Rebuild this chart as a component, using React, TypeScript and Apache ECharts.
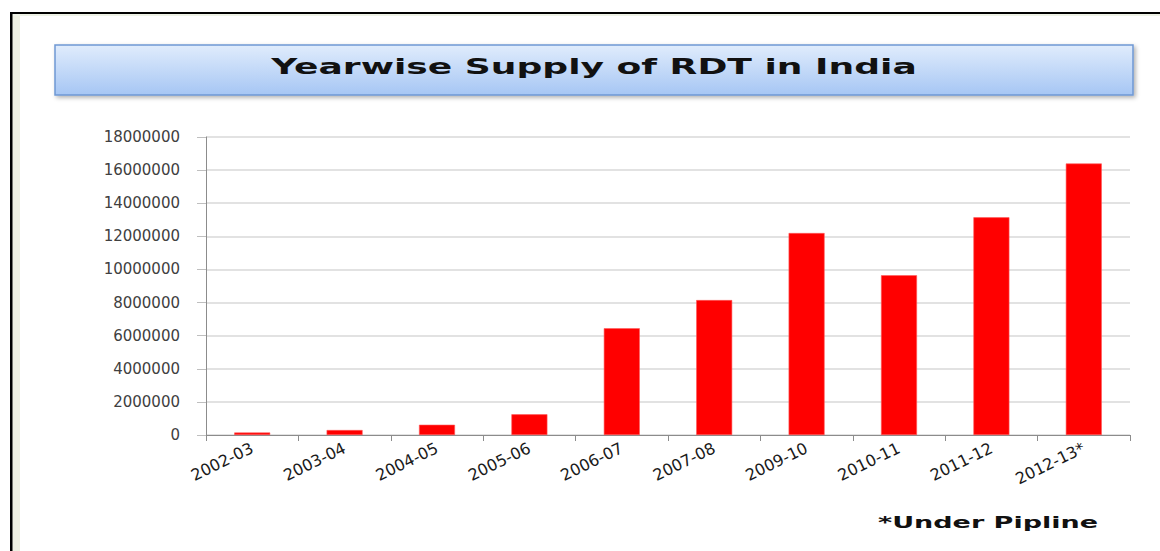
import React, { useEffect, useRef } from "react";
import * as echarts from "echarts";

const categories = ["2002-03", "2003-04", "2004-05", "2005-06", "2006-07", "2007-08", "2009-10", "2010-11", "2011-12", "2012-13*"];
const supply = [150000, 300000, 620000, 1250000, 6450000, 8150000, 12200000, 9650000, 13150000, 16400000];
const titleText = "Yearwise Supply of RDT in India";
const noteText = "*Under Pipline";

export default function App() {
  const ref = useRef<HTMLDivElement>(null);
  useEffect(() => {
    if (!ref.current) return;
    const chart = echarts.init(ref.current, undefined, { renderer: "svg" });
    chart.setOption({
      animation: false,
      backgroundColor: "#ffffff",
      grid: { left: 206, right: 30, top: 137, bottom: 116, containLabel: false },
      xAxis: {
        type: "category",
        data: categories,
        axisLine: { show: true, lineStyle: { color: "#8c8c8c", width: 1 } },
        axisTick: { show: true, alignWithLabel: false, length: 6, lineStyle: { color: "#8c8c8c" } },
        axisLabel: {
          rotate: 26,
          margin: 12,
          fontSize: 16,
          fontFamily: "DejaVu Sans",
          color: "#1a1a1a",
          interval: 0,
        },
      },
      yAxis: {
        type: "value",
        min: 0,
        max: 18000000,
        interval: 2000000,
        axisLine: { show: true, lineStyle: { color: "#8c8c8c", width: 1 } },
        axisTick: { show: true, length: 9, lineStyle: { color: "#bfbfbf" } },
        splitLine: { show: true, lineStyle: { color: "#d9d9d9", width: 1.5 } },
        axisLabel: {
          margin: 26,
          fontSize: 15,
          fontFamily: "DejaVu Sans",
          color: "#404040",
          formatter: (v: number) => String(v),
        },
      },
      series: [
        {
          type: "bar",
          data: supply,
          barWidth: 36,
          itemStyle: { color: "#ff0000", borderColor: "#ff5a5a", borderWidth: 0.6 },
        },
      ],
      graphic: [
        { type: "rect", shape: { x: 12, y: 14, width: 8, height: 540 }, style: { fill: "#eef0e2" }, silent: true },
        { type: "rect", shape: { x: 12, y: 14, width: 1150, height: 2 }, style: { fill: "#eef2e6" }, silent: true },
        { type: "rect", shape: { x: 10, y: 12, width: 1152, height: 2 }, style: { fill: "#000000" }, silent: true },
        { type: "rect", shape: { x: 10, y: 12, width: 2.5, height: 545 }, style: { fill: "#000000" }, silent: true },
        {
          type: "rect",
          shape: { x: 55, y: 45, width: 1078, height: 50 },
          style: {
            fill: new echarts.graphic.LinearGradient(0, 0, 0, 1, [
              { offset: 0, color: "#e0ecfc" },
              { offset: 1, color: "#a6c6f4" },
            ]),
            stroke: "#6f98d4",
            lineWidth: 1.5,
            shadowBlur: 4,
            shadowOffsetX: 2,
            shadowOffsetY: 2,
            shadowColor: "rgba(0,0,0,0.3)",
          },
          silent: true,
        },
        {
          type: "group",
          x: 594,
          y: 66,
          scaleX: 1.64,
          children: [
            {
              type: "text",
              x: 0,
              y: 0,
              style: {
                text: titleText,
                fontSize: 22,
                fontWeight: "bold",
                fontFamily: "DejaVu Sans",
                fill: "#111111",
                textAlign: "center",
                textVerticalAlign: "middle",
              },
            },
          ],
        },
        {
          type: "group",
          x: 988,
          y: 523,
          scaleX: 1.8,
          children: [
            {
              type: "text",
              x: 0,
              y: 0,
              style: {
                text: noteText,
                fontSize: 15,
                fontWeight: "bold",
                fontFamily: "DejaVu Sans",
                fill: "#111111",
                textAlign: "center",
                textVerticalAlign: "middle",
              },
            },
          ],
        },
      ],
    });
    return () => chart.dispose();
  }, []);
  return (
    <div
      ref={ref}
      style={{ position: "fixed", left: 0, top: 0, width: 1160, height: 551 }}
    />
  );
}
